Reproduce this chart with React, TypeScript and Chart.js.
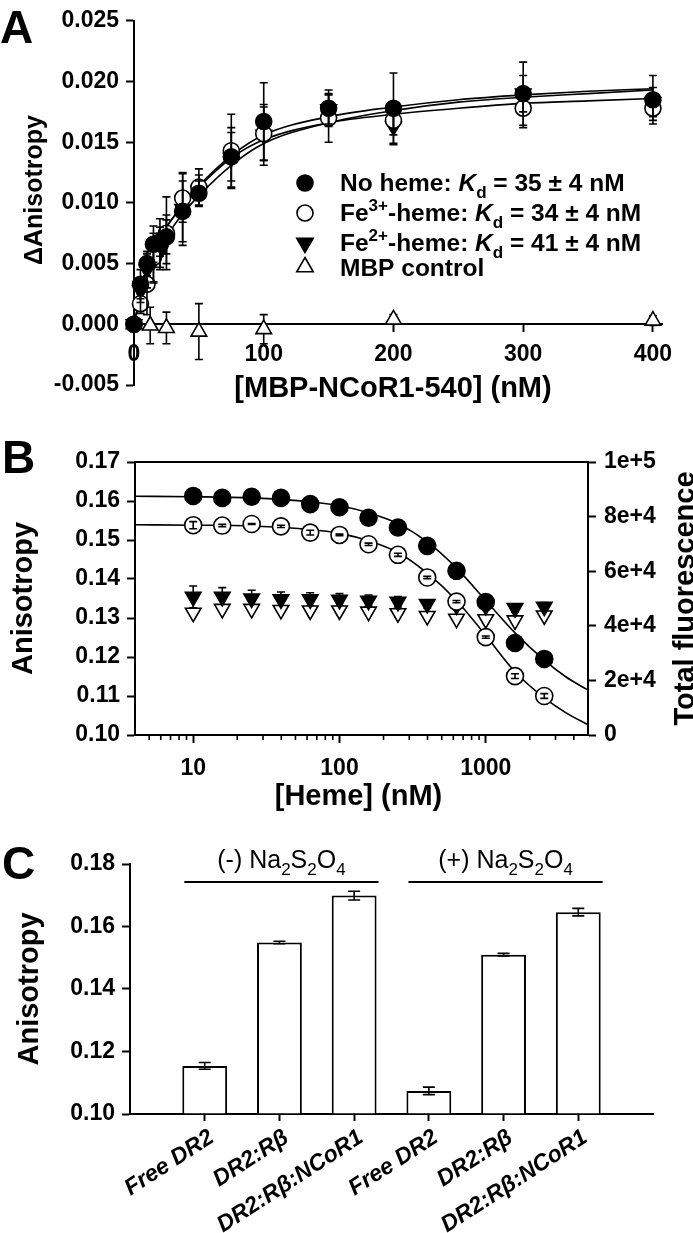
import React, { useEffect, useRef } from 'react';
import { Chart, registerables } from 'chart.js';

Chart.register(...registerables);

const FONT = '"Liberation Sans", Arial, Helvetica, sans-serif';

// ---------------- Panel A data ----------------
const aConc = [0, 5, 10, 15, 20, 25, 37.5, 50, 75, 100, 150, 200, 300, 400];
const aNoHeme = [0, 0.0033, 0.0050, 0.0066, 0.0068, 0.0072, 0.0093, 0.0108, 0.0138, 0.0167, 0.0178, 0.0178, 0.0190, 0.0185];
const aNoHemeErr = [0, 0.0012, 0.0010, 0.0015, 0.0012, 0.0014, 0.0025, 0.0010, 0.0020, 0.0032, 0.0015, 0.0029, 0.0026, 0.0020];
const aFe3 = [0, 0.0017, 0.0033, 0.0055, 0.0067, 0.0075, 0.0104, 0.0113, 0.0143, 0.0157, 0.0170, 0.0168, 0.0178, 0.0178];
const aFe3Err = [0, 0.0008, 0.0025, 0.0020, 0.0020, 0.0030, 0.0020, 0.0015, 0.0030, 0.0022, 0.0020, 0.0012, 0.0016, 0.0010];
const aFe2 = [0, 0.0028, 0.0045, 0.0052, 0.0060, 0.0070, 0.0095, 0.0110, 0.0137, 0.0156, 0.0177, 0.0163, 0.0190, 0.0183];
const aFe2Err = [0, 0.0010, 0.0015, 0.0018, 0.0015, 0.0020, 0.0030, 0.0013, 0.0025, 0.0025, 0.0012, 0.0015, 0.0015, 0.0012];
const aMbpConc = [0, 12.5, 25, 50, 100, 200, 400];
const aMbp = [0, -0.0001, -0.0003, -0.0006, -0.0004, 0.0004, 0.0003];
const aMbpErr = [0, 0.0015, 0.0013, 0.0023, 0.0012, 0.0004, 0.0004];
const aFitConc = [0, 5, 10, 15, 20, 25, 37.5, 50, 75, 100, 150, 200, 250, 300, 350, 400];
const aFitNoHeme = [0, 0.0024, 0.0043, 0.0058, 0.0070, 0.0080, 0.0098, 0.0114, 0.0139, 0.0156, 0.0171, 0.0179, 0.0185, 0.0189, 0.0192, 0.0194];
const aFitFe3 = [0, 0.0025, 0.0044, 0.0059, 0.0071, 0.0080, 0.0098, 0.0113, 0.0137, 0.0152, 0.0166, 0.0173, 0.0178, 0.0182, 0.0184, 0.0186];
const aFitFe2 = [0, 0.0021, 0.0038, 0.0052, 0.0063, 0.0072, 0.0091, 0.0106, 0.0131, 0.0149, 0.0166, 0.0176, 0.0183, 0.0187, 0.0190, 0.0193];
const aXTicks = [0, 100, 200, 300, 400];

// ---------------- Panel B data ----------------
const bConc = [10, 15.8, 25.1, 39.8, 63.1, 100, 158, 251, 398, 631, 1000, 1585, 2512];
const bAnisoFilled = [0.1613, 0.1608, 0.1611, 0.1608, 0.1592, 0.1584, 0.1557, 0.1532, 0.1485, 0.1421, 0.1341, 0.1236, 0.1195];
const bAnisoFilledErr = [0.0003, 0.0003, 0.0002, 0.0002, 0.0003, 0.0002, 0.0002, 0.0003, 0.0003, 0.0003, 0.0004, 0.0004, 0.0004];
const bAnisoOpen = [0.1538, 0.1537, 0.1541, 0.1535, 0.1519, 0.1513, 0.1489, 0.1462, 0.1404, 0.1342, 0.1251, 0.1151, 0.1100];
const bAnisoOpenErr = [0.0009, 0.0003, 0.0001, 0.0003, 0.0006, 0.0002, 0.0003, 0.0004, 0.0003, 0.0003, 0.0003, 0.0006, 0.0006];
const bFluorFilled = [50600, 50600, 50000, 49700, 49700, 49500, 49200, 48800, 48000, 47500, 47300, 46500, 47000];
const bFluorFilledErr = [4000, 3400, 3000, 2700, 2400, 2300, 2100, 1900, 1500, 1500, 1300, 1500, 1500];
const bFluorOpen = [44800, 46200, 46200, 45800, 45600, 45600, 45200, 44600, 43600, 42600, 42400, 42000, 43800];
const bFitConc = [4, 10, 25, 63, 100, 158, 251, 398, 631, 1000, 1585, 2512, 3500, 5000];
const bFitFilled = [0.1612, 0.1611, 0.1608, 0.1598, 0.1588, 0.1570, 0.1542, 0.1495, 0.1428, 0.1345, 0.1262, 0.1192, 0.1150, 0.1115];
const bFitOpen = [0.1539, 0.1538, 0.1536, 0.1527, 0.1517, 0.1498, 0.1468, 0.1415, 0.1345, 0.1255, 0.1162, 0.1095, 0.1058, 0.1026];
const bMajorTicks = [10, 100, 1000];
const bMinorTicks = [5, 6, 7, 8, 9, 20, 30, 40, 50, 60, 70, 80, 90, 200, 300, 400, 500, 600, 700, 800, 900, 2000, 3000, 4000];

// ---------------- Panel C data ----------------
const cLabels = ['Free DR2', 'DR2:R\u03B2', 'DR2:R\u03B2:NCoR1', 'Free DR2', 'DR2:R\u03B2', 'DR2:R\u03B2:NCoR1'];
const cValues = [0.1154, 0.1549, 0.1699, 0.1074, 0.1510, 0.1646];
const cErrors = [0.0011, 0.0004, 0.0014, 0.0012, 0.0004, 0.0012];
const cGroups = [
  { prefix: '(-) ', from: 0, to: 2 },
  { prefix: '(+) ', from: 3, to: 5 },
];

type Seg = { t: string; it?: boolean; sup?: boolean; sub?: boolean };

function drawRich(ctx: CanvasRenderingContext2D, x: number, y: number, segs: Seg[], size: number, weight: string, align: 'left' | 'center') {
  const fontFor = (s: Seg) => `${s.it ? 'italic ' : ''}${weight} ${s.sup || s.sub ? Math.round(size * 0.68) : size}px ${FONT}`;
  let w = 0;
  for (const s of segs) { ctx.font = fontFor(s); w += ctx.measureText(s.t).width; }
  let cx = align === 'center' ? x - w / 2 : x;
  ctx.save();
  ctx.fillStyle = '#000';
  ctx.textAlign = 'left';
  ctx.textBaseline = 'alphabetic';
  for (const s of segs) {
    ctx.font = fontFor(s);
    const dy = s.sup ? -size * 0.4 : s.sub ? size * 0.28 : 0;
    ctx.fillText(s.t, cx, y + dy);
    cx += ctx.measureText(s.t).width;
  }
  ctx.restore();
}

function drawText(ctx: CanvasRenderingContext2D, text: string, x: number, y: number, font: string, rot = 0, align: CanvasTextAlign = 'center', base: CanvasTextBaseline = 'middle') {
  ctx.save();
  ctx.translate(x, y);
  ctx.rotate(rot);
  ctx.font = font;
  ctx.fillStyle = '#000';
  ctx.textAlign = align;
  ctx.textBaseline = base;
  ctx.fillText(text, 0, 0);
  ctx.restore();
}

function drawMarker(ctx: CanvasRenderingContext2D, kind: string, x: number, y: number, r: number) {
  ctx.save();
  ctx.beginPath();
  if (kind.includes('Circle')) {
    ctx.arc(x, y, r, 0, Math.PI * 2);
  } else if (kind.includes('Down')) {
    ctx.moveTo(x, y + r);
    ctx.lineTo(x - r * 0.866, y - r / 2);
    ctx.lineTo(x + r * 0.866, y - r / 2);
    ctx.closePath();
  } else {
    ctx.moveTo(x, y - r);
    ctx.lineTo(x + r * 0.866, y + r / 2);
    ctx.lineTo(x - r * 0.866, y + r / 2);
    ctx.closePath();
  }
  ctx.fillStyle = kind.startsWith('filled') ? '#000' : '#fff';
  ctx.fill();
  ctx.lineWidth = 1.6;
  ctx.strokeStyle = '#000';
  ctx.stroke();
  ctx.restore();
}

function drawErrors(chart: any, layer: string) {
  const ctx = chart.ctx as CanvasRenderingContext2D;
  chart.data.datasets.forEach((ds: any, i: number) => {
    if (!ds.errors || (ds.errorLayer || 'front') !== layer) return;
    const meta = chart.getDatasetMeta(i);
    const yScale = chart.scales[meta.yAxisID];
    ctx.save();
    ctx.strokeStyle = '#000';
    ctx.lineWidth = ds.errorWidth ?? 1.6;
    meta.data.forEach((el: any, j: number) => {
      const e = ds.errors[j];
      if (!e) return;
      const raw = ds.data[j];
      const v = typeof raw === 'number' ? raw : raw ? raw.y : null;
      if (v == null) return;
      const x = el.x;
      const y1 = yScale.getPixelForValue(v + e);
      const y2 = yScale.getPixelForValue(v - e);
      const c = ds.capHalf ?? 4;
      ctx.beginPath();
      ctx.moveTo(x, y1); ctx.lineTo(x, y2);
      ctx.moveTo(x - c, y1); ctx.lineTo(x + c, y1);
      ctx.moveTo(x - c, y2); ctx.lineTo(x + c, y2);
      ctx.stroke();
    });
    ctx.restore();
  });
}

const errorBarPlugin = {
  id: 'errorBars',
  beforeDatasetsDraw(chart: any) { drawErrors(chart, 'back'); },
  afterDatasetsDraw(chart: any) { drawErrors(chart, 'front'); },
};
Chart.register(errorBarPlugin);

Chart.defaults.color = '#000';
Chart.defaults.font.family = FONT;

const tickFont = { family: FONT, size: 23, weight: 'bold' as const };
const TITLE_FONT = `bold 29px ${FONT}`;
const LETTER_FONT = `bold 46px ${FONT}`;

const pts = (xs: number[], ys: number[]) => xs.map((x, i) => ({ x, y: ys[i] }));

function markerDs(label: string, xs: number[], ys: number[], errs: number[] | null, style: string, rot: number, filled: boolean, r: number, extra: any = {}) {
  return {
    label,
    data: pts(xs, ys),
    showLine: false,
    pointStyle: style,
    rotation: rot,
    pointRadius: r,
    pointBackgroundColor: filled ? '#000' : '#fff',
    pointBorderColor: '#000',
    pointBorderWidth: 1.6,
    errors: errs,
    clip: false,
    ...extra,
  };
}

function fitDs(xs: number[], ys: number[], yAxisID = 'y') {
  return {
    data: pts(xs, ys),
    showLine: true,
    pointRadius: 0,
    borderColor: '#000',
    borderWidth: 1.6,
    tension: 0.4,
    cubicInterpolationMode: 'monotone',
    yAxisID,
    clip: false,
  };
}

// ---------------- configs ----------------
const legendRows = [
  { kind: 'filledCircle', segs: [{ t: 'No heme: ' }, { t: 'K', it: true }, { t: 'd', sub: true }, { t: ' = 35 \u00B1 4 nM' }] },
  { kind: 'openCircle', segs: [{ t: 'Fe' }, { t: '3+', sup: true }, { t: '-heme: ' }, { t: 'K', it: true }, { t: 'd', sub: true }, { t: ' = 34 \u00B1 4 nM' }] },
  { kind: 'filledTriDown', segs: [{ t: 'Fe' }, { t: '2+', sup: true }, { t: '-heme: ' }, { t: 'K', it: true }, { t: 'd', sub: true }, { t: ' = 41 \u00B1 4 nM' }] },
  { kind: 'openTriUp', segs: [{ t: 'MBP control' }] },
];

function configA(): any {
  return {
    type: 'scatter',
    data: {
      datasets: [
        markerDs('No heme', aConc, aNoHeme, aNoHemeErr, 'circle', 0, true, 8),
        markerDs('Fe3+-heme', aConc, aFe3, aFe3Err, 'circle', 0, false, 8),
        markerDs('Fe2+-heme', aConc, aFe2, aFe2Err, 'triangle', 180, true, 9),
        markerDs('MBP control', aMbpConc, aMbp, aMbpErr, 'triangle', 0, false, 9, { errorLayer: 'back' }),
        fitDs(aFitConc, aFitNoHeme),
        fitDs(aFitConc, aFitFe3),
        fitDs(aFitConc, aFitFe2),
      ],
    },
    options: {
      responsive: false,
      animation: false,
      events: [],
      layout: { padding: { top: 10, bottom: 35, left: 0, right: 31 } },
      plugins: { legend: { display: false }, tooltip: { enabled: false } },
      scales: {
        x: {
          type: 'linear',
          min: 0,
          max: 407,
          position: { y: 0 },
          afterBuildTicks: (s: any) => { s.ticks = aXTicks.map((v) => ({ value: v })); },
          ticks: { font: tickFont, padding: 10, maxRotation: 0, autoSkip: false, callback: (v: any) => String(v) },
          grid: { drawOnChartArea: false, tickLength: 7, tickWidth: 2, tickColor: '#000' },
          border: { color: '#000', width: 2 },
        },
        y: {
          min: -0.005,
          max: 0.025,
          afterFit: (s: any) => { s.width = 134; },
          ticks: { stepSize: 0.005, font: tickFont, padding: 7, callback: (v: any) => Number(v).toFixed(3) },
          grid: { drawOnChartArea: false, tickLength: 8, tickWidth: 2, tickColor: '#000' },
          border: { color: '#000', width: 2 },
        },
      },
    },
    plugins: [{
      id: 'panelA',
      afterDraw(chart: any) {
        const ctx = chart.ctx as CanvasRenderingContext2D;
        const ca = chart.chartArea;
        drawText(ctx, 'A', 0, 43, LETTER_FONT, 0, 'left', 'alphabetic');
        drawText(ctx, '\u0394Anisotropy', 35, 190, `bold 25px ${FONT}`, -Math.PI / 2);
        drawText(ctx, '[MBP-NCoR1-540] (nM)', (ca.left + ca.right) / 2 - 5, 389, TITLE_FONT);
        const rowY = [183, 213, 243, 267];
        const baseY = [191, 221, 251, 276];
        legendRows.forEach((row, i) => {
          drawMarker(ctx, row.kind, 305, rowY[i], row.kind.includes('Tri') ? 9.5 : 8);
          drawRich(ctx, 340, baseY[i], row.segs, 24.5, 'bold', 'left');
        });
      },
    }],
  };
}

function fmtExp(v: number) {
  if (v === 0) return '0';
  const e = Math.floor(Math.log10(v) + 1e-9);
  const m = Math.round(v / Math.pow(10, e));
  return `${m}e+${e}`;
}

function configB(): any {
  return {
    type: 'scatter',
    data: {
      datasets: [
        markerDs('filled', bConc, bAnisoFilled, bAnisoFilledErr, 'circle', 0, true, 8.5),
        markerDs('open', bConc, bAnisoOpen, bAnisoOpenErr, 'circle', 0, false, 8.5, { capHalf: 4 }),
        markerDs('fluorFilled', bConc, bFluorFilled, bFluorFilledErr, 'triangle', 180, true, 9, { yAxisID: 'y2', errorLayer: 'back' }),
        markerDs('fluorOpen', bConc, bFluorOpen, null, 'triangle', 180, false, 9, { yAxisID: 'y2' }),
        fitDs(bFitConc, bFitFilled),
        fitDs(bFitConc, bFitOpen),
      ],
    },
    options: {
      responsive: false,
      animation: false,
      events: [],
      layout: { padding: { top: 42, bottom: 0, left: 0, right: 0 } },
      plugins: { legend: { display: false }, tooltip: { enabled: false } },
      scales: {
        x: {
          type: 'logarithmic',
          min: 4,
          max: 5000,
          afterBuildTicks: (s: any) => { s.ticks = bMajorTicks.map((v) => ({ value: v, major: true })); },
          afterFit: (s: any) => { s.height = 85; },
          ticks: { font: tickFont, padding: 12, autoSkip: false, maxRotation: 0, callback: (v: any) => String(v) },
          grid: { drawOnChartArea: false, tickLength: 8, tickWidth: 2, tickColor: '#000' },
          border: { color: '#000', width: 2 },
        },
        y: {
          min: 0.1,
          max: 0.17,
          afterFit: (s: any) => { s.width = 135; },
          ticks: { stepSize: 0.01, font: tickFont, padding: 7, callback: (v: any) => Number(v).toFixed(2) },
          grid: { drawOnChartArea: false, tickLength: 8, tickWidth: 2, tickColor: '#000' },
          border: { color: '#000', width: 2 },
        },
        y2: {
          position: 'right',
          min: 0,
          max: 100000,
          afterFit: (s: any) => { s.width = 105; },
          ticks: { stepSize: 20000, font: tickFont, padding: 8, callback: (v: any) => fmtExp(Number(v)) },
          grid: { drawOnChartArea: false, tickLength: 8, tickWidth: 2, tickColor: '#000' },
          border: { color: '#000', width: 2 },
        },
      },
    },
    plugins: [{
      id: 'panelB',
      afterDraw(chart: any) {
        const ctx = chart.ctx as CanvasRenderingContext2D;
        const ca = chart.chartArea;
        const xs = chart.scales.x;
        ctx.save();
        ctx.strokeStyle = '#000';
        ctx.lineWidth = 2;
        ctx.beginPath();
        ctx.moveTo(ca.left - 1, ca.top);
        ctx.lineTo(ca.right + 1, ca.top);
        ctx.stroke();
        ctx.lineWidth = 1.6;
        ctx.beginPath();
        for (const v of bMinorTicks) {
          const px = xs.getPixelForValue(v);
          ctx.moveTo(px, ca.bottom);
          ctx.lineTo(px, ca.bottom + 5);
        }
        ctx.stroke();
        ctx.restore();
        drawText(ctx, 'B', 2, 473 - 420, LETTER_FONT, 0, 'left', 'alphabetic');
        const midY = (ca.top + ca.bottom) / 2;
        drawText(ctx, 'Anisotropy', 24, midY, TITLE_FONT, -Math.PI / 2);
        drawText(ctx, 'Total fluorescence', 686, midY, TITLE_FONT, -Math.PI / 2);
        drawText(ctx, '[Heme] (nM)', (ca.left + ca.right) / 2 - 3, 797 - 420, TITLE_FONT);
      },
    }],
  };
}

function configC(): any {
  const labels = ['', ...cLabels, ''];
  const data = [null, ...cValues, null];
  const errs = [null, ...cErrors, null];
  const last = labels.length - 1;
  return {
    type: 'bar',
    data: {
      labels,
      datasets: [{
        data,
        errors: errs,
        capHalf: 6,
        base: 0.1,
        backgroundColor: '#fff',
        borderColor: '#000',
        borderWidth: 2,
        categoryPercentage: 1,
        barPercentage: 0.6,
      }],
    },
    options: {
      responsive: false,
      animation: false,
      events: [],
      layout: { padding: { top: 34, bottom: 0, left: 0, right: 40 } },
      plugins: { legend: { display: false }, tooltip: { enabled: false } },
      scales: {
        x: {
          type: 'category',
          offset: false,
          afterFit: (s: any) => { s.height = 119; },
          ticks: { autoSkip: false, minRotation: 33, maxRotation: 33, padding: 3, labelOffset: 7, font: { family: FONT, size: 23, weight: 'bold', style: 'italic' } },
          grid: {
            offset: false,
            drawOnChartArea: false,
            tickLength: 7,
            tickWidth: 2,
            tickColor: (c: any) => (c.index === 0 || c.index === last ? 'rgba(0,0,0,0)' : '#000'),
          },
          border: { color: '#000', width: 2 },
        },
        y: {
          min: 0.1,
          max: 0.18,
          afterFit: (s: any) => { s.width = 130; },
          ticks: { stepSize: 0.02, font: tickFont, padding: 7, callback: (v: any) => Number(v).toFixed(2) },
          grid: { drawOnChartArea: false, tickLength: 8, tickWidth: 2, tickColor: '#000' },
          border: { color: '#000', width: 2 },
        },
      },
    },
    plugins: [{
      id: 'panelC',
      afterDraw(chart: any) {
        const ctx = chart.ctx as CanvasRenderingContext2D;
        const ca = chart.chartArea;
        drawText(ctx, 'C', 2, 879 - 830, LETTER_FONT, 0, 'left', 'alphabetic');
        drawText(ctx, 'Anisotropy', 30, (ca.top + ca.bottom) / 2, TITLE_FONT, -Math.PI / 2);
        const meta = chart.getDatasetMeta(0);
        for (const g of cGroups) {
          const a = meta.data[g.from + 1] as any;
          const b = meta.data[g.to + 1] as any;
          const x1 = a.x - a.width / 2 + 2;
          const x2 = b.x + b.width / 2 + 2;
          const ly = ca.top + 18;
          ctx.save();
          ctx.strokeStyle = '#000';
          ctx.lineWidth = 2;
          ctx.beginPath();
          ctx.moveTo(x1, ly);
          ctx.lineTo(x2, ly);
          ctx.stroke();
          ctx.restore();
          drawRich(ctx, (x1 + x2) / 2, ly - 14, [
            { t: g.prefix + 'Na' }, { t: '2', sub: true }, { t: 'S' }, { t: '2', sub: true }, { t: 'O' }, { t: '4', sub: true },
          ], 25, 'normal', 'center');
        }
      },
    }],
  };
}

function ChartPanel({ top, height, make }: { top: number; height: number; make: () => any }) {
  const ref = useRef<HTMLCanvasElement>(null);
  useEffect(() => {
    const chart = new Chart(ref.current as HTMLCanvasElement, make());
    return () => chart.destroy();
  }, []);
  return (
    <canvas
      ref={ref}
      width={693}
      height={height}
      style={{ position: 'absolute', left: 0, top, width: 693, height, display: 'block' }}
    />
  );
}

export default function App() {
  return (
    <div style={{ position: 'absolute', left: 0, top: 0, width: 693, height: 1233, background: '#fff', overflow: 'hidden' }}>
      <ChartPanel top={0} height={420} make={configA} />
      <ChartPanel top={420} height={400} make={configB} />
      <ChartPanel top={830} height={403} make={configC} />
    </div>
  );
}
